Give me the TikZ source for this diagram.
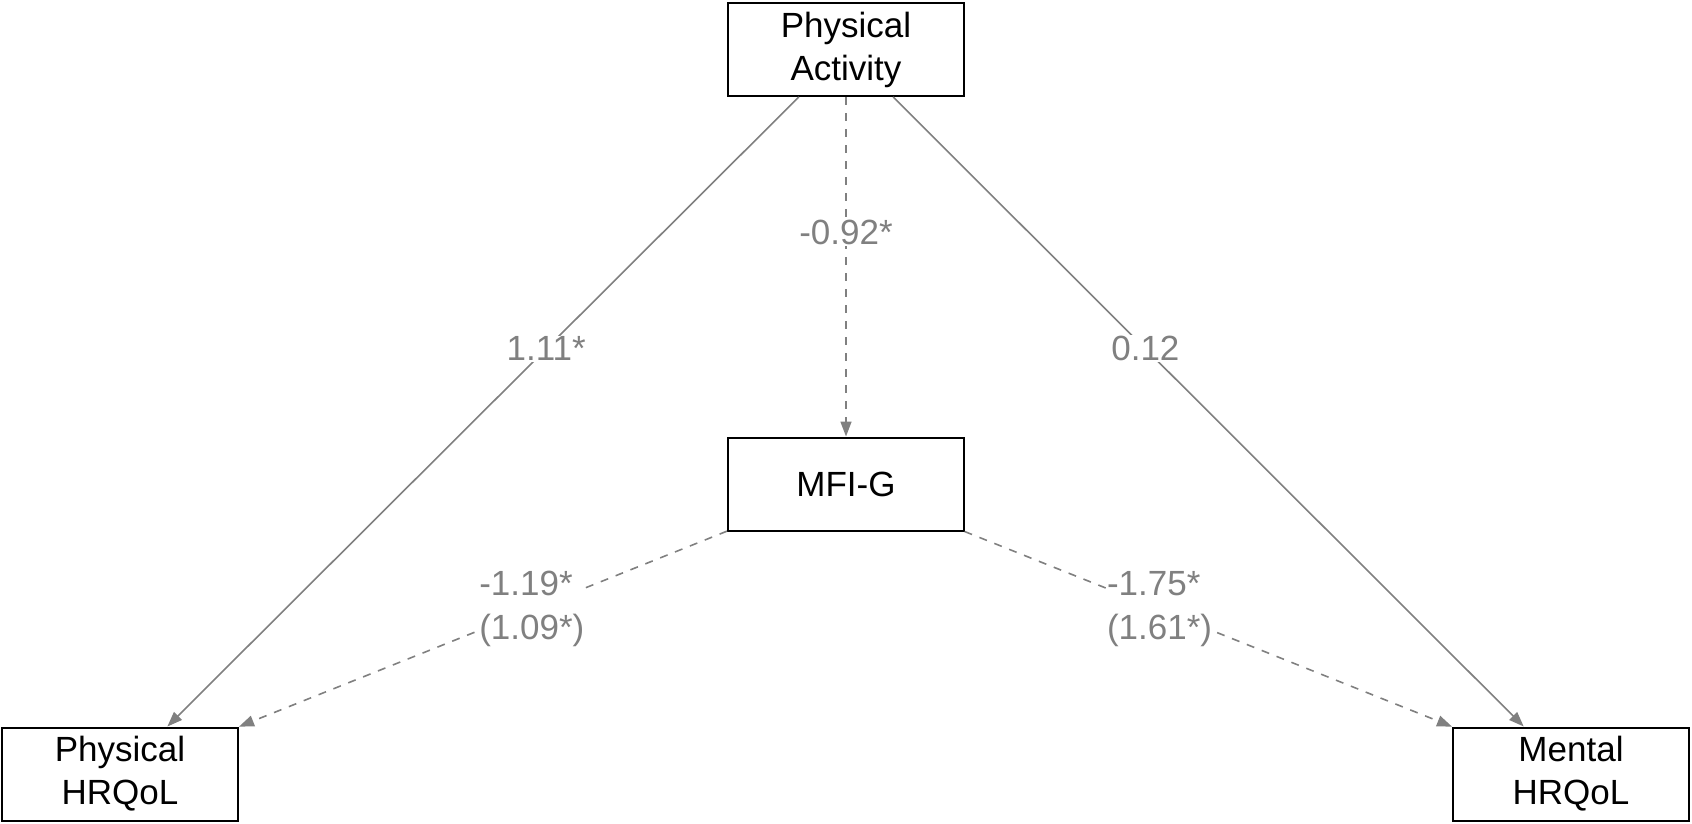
\documentclass[tikz,border=0pt]{standalone}
\usepackage{fontspec}
\setmainfont{Liberation Sans}
\usetikzlibrary{arrows.meta}
\begin{document}
\begin{tikzpicture}[x=1pt,y=-1pt,
  box/.style={draw=black,line width=2pt,minimum width=236pt,minimum height=93pt,inner sep=0pt,align=center,font=\fontsize{35}{43}\selectfont},
  path/.style={draw=gray,line width=1.6pt,-{Triangle[length=15pt,width=11pt]}},
  dashpath/.style={path,dash pattern=on 8pt off 8pt},
  lbl/.style={fill=white,inner sep=1pt,text=gray,font=\fontsize{35}{44}\selectfont}]
\useasboundingbox (0,0) rectangle (1692,823);
\node[box] (pa) at (846,49.5) {Physical\\Activity};
\node[box] (mfi) at (846,484) {MFI-G};
\node[box] (ph) at (120,774) {Physical\\HRQoL};
\node[box] (mh) at (1571,774) {Mental\\HRQoL};
\draw[path] (pa) -- node[lbl,pos=0.4] (l1) {1.11*} (ph);
\draw[path] (pa) -- node[lbl,pos=0.4] (l2) {0.12} (mh);
\draw[dashpath] (pa) -- node[lbl,pos=0.4] (l3) {-0.92*} (mfi);
\draw[dashpath] (mfi) -- node[lbl,pos=0.4,align=left] (l4) {-1.19*\\(1.09*)} (ph);
\draw[dashpath] (mfi) -- node[lbl,pos=0.4,align=left] (l5) {-1.75*\\(1.61*)} (mh);
\end{tikzpicture}
\end{document}
